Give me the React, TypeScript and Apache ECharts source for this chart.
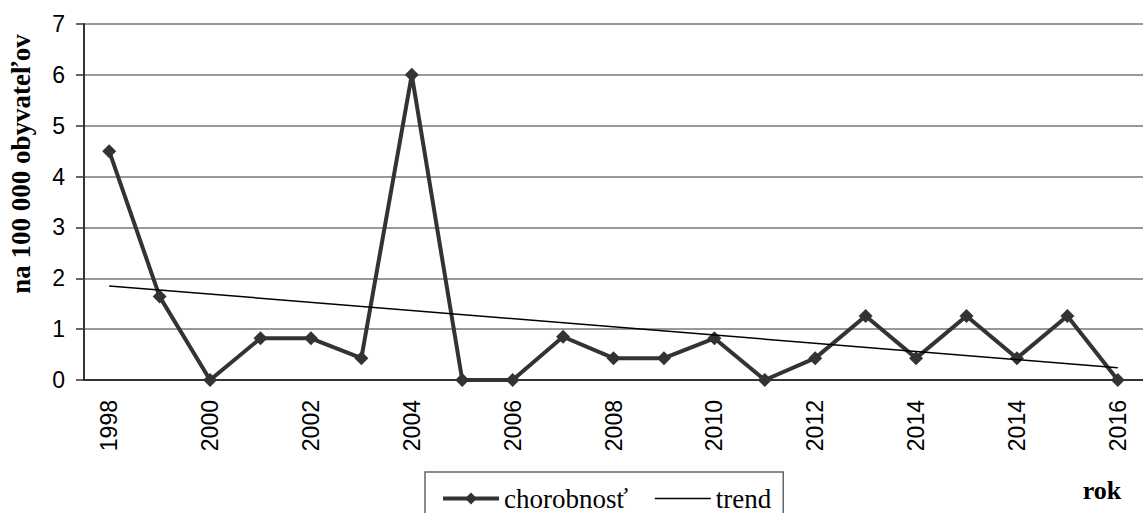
import React, { useEffect, useRef } from "react";
import * as echarts from "echarts";

const categories = [
  "1998", "1999", "2000", "2001", "2002", "2003", "2004", "2005", "2006", "2007",
  "2008", "2009", "2010", "2011", "2012", "2013", "2014", "2015", "2014", "2015", "2016",
];
const morbidity = [
  4.5, 1.64, 0, 0.82, 0.82, 0.43, 6, 0, 0, 0.85,
  0.43, 0.43, 0.82, 0, 0.43, 1.26, 0.43, 1.26, 0.43, 1.26, 0,
];
const trendStart = 1.85;
const trendEnd = 0.24;
const yMin = 0;
const yMax = 7;
const yStep = 1;
const seriesNames = ["chorobnosť", "trend"];

const serif = "Liberation Serif";
const sans = "Liberation Sans";

export default function App() {
  const ref = useRef<HTMLDivElement>(null);
  useEffect(() => {
    if (!ref.current) return;
    const chart = echarts.init(ref.current, null, { renderer: "svg" });
    const last = categories.length - 1;
    const trend = categories.map((_, i) => (i === 0 ? trendStart : i === last ? trendEnd : null));
    chart.setOption({
      animation: false,
      backgroundColor: "#ffffff",
      grid: { left: 84, top: 24, width: 1067, height: 356, containLabel: false },
      xAxis: {
        type: "category",
        data: categories,
        boundaryGap: true,
        axisLine: { lineStyle: { color: "#333", width: 2 } },
        axisTick: { interval: 0, length: 8, lineStyle: { color: "#333", width: 1.5 } },
        axisLabel: {
          interval: 1,
          rotate: 90,
          margin: 20,
          fontFamily: sans,
          fontSize: 23,
          color: "#000",
        },
        splitLine: { show: false },
      },
      yAxis: {
        type: "value",
        min: yMin,
        max: yMax,
        interval: yStep,
        axisLine: { show: true, lineStyle: { color: "#333", width: 2 } },
        axisTick: { show: true, length: 8, lineStyle: { color: "#333", width: 1.5 } },
        axisLabel: {
          margin: 19,
          fontFamily: sans,
          fontSize: 23,
          color: "#000",
        },
        splitLine: { show: true, lineStyle: { color: "#777", width: 1.5 } },
      },
      legend: {
        left: 425,
        top: 472,
        orient: "horizontal",
        padding: [13, 12, 30, 16],
        itemGap: 26,
        itemWidth: 56,
        itemHeight: 15,
        borderColor: "#666",
        borderWidth: 1.5,
        borderRadius: 0,
        lineStyle: { width: "inherit" },
        textStyle: { fontFamily: serif, fontSize: 27, color: "#000" },
        data: seriesNames,
      },
      graphic: [
        {
          type: "text",
          x: 21,
          y: 164,
          rotation: Math.PI / 2,
          style: {
            text: "na 100 000 obyvateľov",
            font: "bold 27px 'Liberation Serif'",
            fill: "#000",
            textAlign: "center",
            textVerticalAlign: "middle",
          },
        },
        {
          type: "text",
          x: 1102,
          y: 490,
          style: {
            text: "rok",
            font: "bold 26px 'Liberation Serif'",
            fill: "#000",
            textAlign: "center",
            textVerticalAlign: "middle",
          },
        },
      ],
      series: [
        {
          name: seriesNames[0],
          type: "line",
          data: morbidity,
          symbol: "diamond",
          symbolSize: 14,
          lineStyle: { color: "#333", width: 4 },
          itemStyle: { color: "#333" },
          z: 3,
        },
        {
          name: seriesNames[1],
          type: "line",
          data: trend,
          connectNulls: true,
          symbol: "none",
          lineStyle: { color: "#000", width: 1.5 },
          itemStyle: { color: "#000", opacity: 0 },
          z: 4,
        },
      ],
    });
    return () => chart.dispose();
  }, []);
  return (
    <div
      ref={ref}
      style={{ position: "fixed", left: 0, top: 0, width: 1143, height: 513, background: "#fff" }}
    />
  );
}
